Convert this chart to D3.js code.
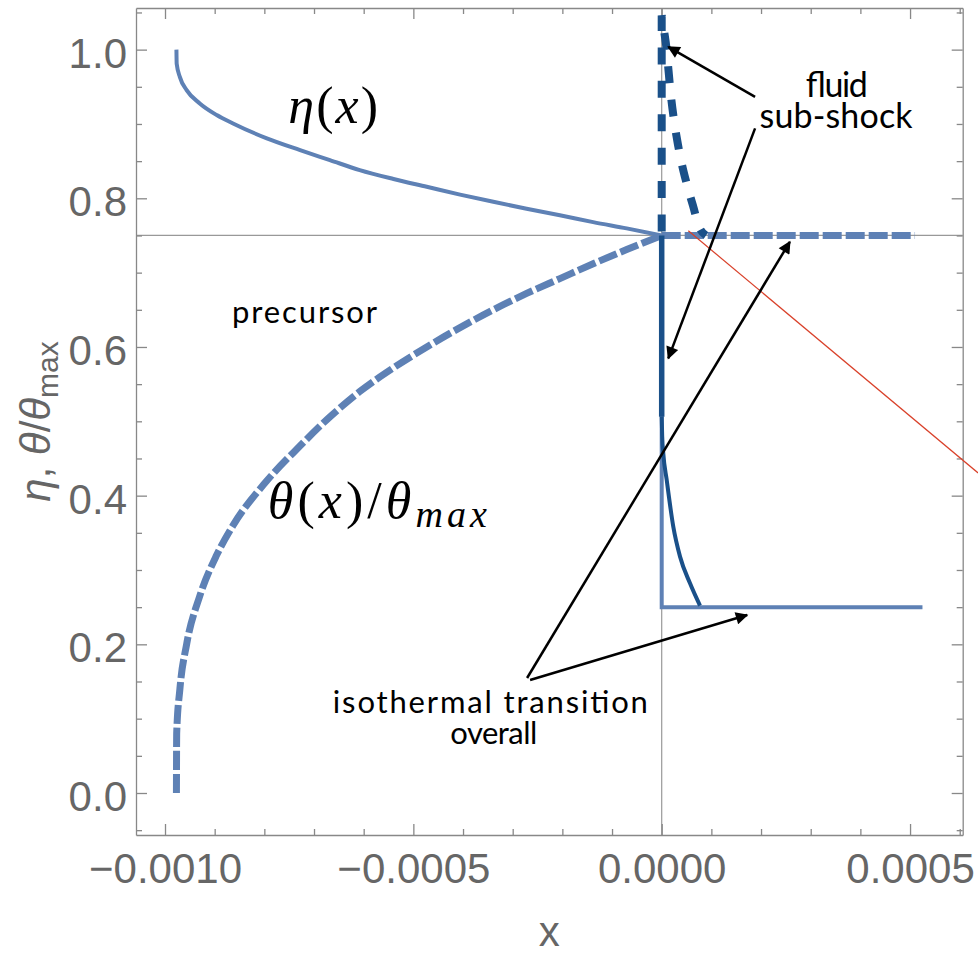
<!DOCTYPE html>
<html>
<head>
<meta charset="utf-8">
<script src="https://cdn.jsdelivr.net/npm/d3@7"></script>
<style>
  body { margin: 0; background: #fff; }
  svg { display: block; }
  .frame path, .frame line { stroke: #888; stroke-width: 1.3; }
  .frame text { font-family: "Liberation Sans", Arial, sans-serif; font-size: 42px; fill: #666; }
  .axis-title { font-family: "Liberation Sans", Arial, sans-serif; font-size: 42px; fill: #666; }
  .note { font-family: Lato, "Open Sans", sans-serif; font-size: 31px; fill: #000; }
  .math { font-family: "Liberation Serif", serif; font-size: 52px; fill: #000; }
</style>
</head>
<body>
<div id="app"></div>
<script>
// DATA
// precursor, x < 0
const precursorX = [-0.000977, -0.0009765, -0.000970, -0.0009565, -0.00093, -0.000896, -0.000863,
  -0.000795, -0.000728, -0.000668, -0.000608, -0.000540, -0.000473, -0.000406, -0.000339,
  -0.000272, -0.000205, -0.000138, -0.0000705, 0];
const etaPrecursor = [1.0, 0.981, 0.963, 0.9455, 0.9276, 0.912, 0.9007, 0.8806, 0.8648, 0.8514,
  0.838, 0.826, 0.8155, 0.805, 0.7953, 0.786, 0.7773, 0.768, 0.7595, 0.75];
const thetaPrecursor = [0, 0.08, 0.14, 0.2, 0.265, 0.32, 0.36, 0.42, 0.467, 0.506, 0.54, 0.572,
  0.6, 0.626, 0.65, 0.672, 0.692, 0.712, 0.731, 0.75];

// overall isothermal transition, x >= 0
const etaJumpX = [0, 0, 0.000525];
const etaJump = [0.75, 0.25, 0.25];
const thetaFlatX = [0, 0.00051];
const thetaFlat = [0.75, 0.75];

// fluid sub-shock
const fluidEtaX = [0, 0, 0.0000010, 0.0000032, 0.0000101, 0.0000234, 0.0000369, 0.0000570, 0.0000771];
const fluidEta = [0.75, 0.506, 0.48, 0.457, 0.421, 0.358, 0.318, 0.282, 0.252];
const fluidThetaX = [0, 0, 0.0000046, 0.0000101, 0.0000137, 0.0000187, 0.0000248, 0.0000328,
  0.0000409, 0.0000510, 0.0000630, 0.0000751, 0.0000892];
const fluidTheta = [0.75, 1.046, 1.026, 0.999, 0.972, 0.937, 0.905, 0.872, 0.845, 0.818, 0.790, 0.762, 0.75];

// ticks
const xMajor = [-0.001, -0.0005, 0, 0.0005];
const xMinor = [-0.0009, -0.0008, -0.0007, -0.0006, -0.0004, -0.0003, -0.0002, -0.0001,
  0.0001, 0.0002, 0.0003, 0.0004, 0.0006];
const yMajor = [0, 0.2, 0.4, 0.6, 0.8, 1.0];
const yMinor = [-0.05, 0.05, 0.1, 0.15, 0.25, 0.3, 0.35, 0.45, 0.5, 0.55, 0.65, 0.7, 0.75,
  0.85, 0.9, 0.95, 1.05];

// annotations, in data coordinates
const arrowTails = [[0.000188, 0.9365], [0.000188, 0.894], [-0.000271, 0.1547], [-0.000265, 0.152]];
const arrowTips = [[0.0000133, 1.0038], [0.0000133, 0.5847], [0.000258, 0.7415], [0.000172, 0.2394]];
const redLine = [[0.0000536, 0.7563], [0.000637, 0.4305]];

// LAYOUT
const W = 978, H = 954;
const plotL = 136, plotR = 962.7, plotT = 8, plotB = 835;

const x = d3.scaleLinear().domain([-0.0010584, 0.000606]).range([plotL, plotR]);
const y = d3.scaleLinear().domain([-0.0565, 1.056]).range([plotB, plotT]);

const zip = (xs, ys) => xs.map((v, i) => [v, ys[i]]);

const svg = d3.select('#app')
  .append('svg')
  .attr('width', W)
  .attr('height', H);

// gridlines at x = 0 and y = 0.75
svg.append('line')
  .attr('x1', x(0)).attr('x2', x(0))
  .attr('y1', plotT).attr('y2', plotB)
  .attr('stroke', '#999').attr('stroke-width', 1.2);
svg.append('line')
  .attr('x1', plotL).attr('x2', plotR)
  .attr('y1', y(0.75)).attr('y2', y(0.75))
  .attr('stroke', '#999').attr('stroke-width', 1.2);

// frame with inward ticks on all sides
function frameAxis(axisFn, scale, major, minor, transform, labels) {
  const g = svg.append('g').attr('class', 'frame').attr('transform', transform);
  g.call(axisFn(scale).tickValues(minor).tickSizeInner(-6).tickSizeOuter(0).tickFormat(''));
  const gm = svg.append('g').attr('class', 'frame').attr('transform', transform);
  gm.call(axisFn(scale).tickValues(major).tickSizeInner(-11).tickSizeOuter(0)
    .tickPadding(labels ? labels.pad : 0)
    .tickFormat(labels ? labels.fmt : ''));
  gm.select('.domain').remove();
  return gm;
}

const fx = d3.format('.4f');
const fy = d3.format('.1f');
frameAxis(d3.axisBottom, x, xMajor, xMinor, `translate(0,${plotB})`, { pad: 18, fmt: fx });
frameAxis(d3.axisTop, x, xMajor, xMinor, `translate(0,${plotT})`, null);
const gy = frameAxis(d3.axisLeft, y, yMajor, yMinor, `translate(${plotL},0)`, { pad: 9, fmt: fy });
gy.selectAll('text').attr('dy', '0.42em');
frameAxis(d3.axisRight, y, yMajor, yMinor, `translate(${plotR},0)`, null);

// axis titles
svg.append('text')
  .attr('class', 'axis-title')
  .attr('x', (plotL + plotR) / 2)
  .attr('y', 946)
  .attr('text-anchor', 'middle')
  .text('x');

const yt = svg.append('text')
  .attr('class', 'axis-title')
  .attr('transform', `translate(50,${(plotT + plotB) / 2}) rotate(-90)`)
  .attr('text-anchor', 'middle');
yt.append('tspan').attr('font-style', 'italic').text('η');
yt.append('tspan').text(', ');
yt.append('tspan').attr('font-style', 'italic').text('θ');
yt.append('tspan').text('/');
yt.append('tspan').attr('font-style', 'italic').text('θ');
yt.append('tspan').attr('font-size', 30).attr('dy', 8).text('max');

// curves
const smooth = d3.line().x(d => x(d[0])).y(d => y(d[1])).curve(d3.curveMonotoneX);
const straight = d3.line().x(d => x(d[0])).y(d => y(d[1]));

const LIGHT = '#5e81b5';
const DARK = '#1a5089';

// overall theta (dashed, light)
svg.append('path')
  .attr('d', smooth(zip(precursorX, thetaPrecursor)))
  .attr('fill', 'none').attr('stroke', LIGHT).attr('stroke-width', 7)
  .attr('stroke-dasharray', '19,4');
svg.append('path')
  .attr('d', straight(zip(thetaFlatX, thetaFlat)))
  .attr('fill', 'none').attr('stroke', LIGHT).attr('stroke-width', 7)
  .attr('stroke-dasharray', '19,4');

// overall eta (solid, light)
svg.append('path')
  .attr('d', smooth(zip(precursorX, etaPrecursor)))
  .attr('fill', 'none').attr('stroke', LIGHT).attr('stroke-width', 4);
svg.append('path')
  .attr('d', straight(zip(etaJumpX, etaJump)))
  .attr('fill', 'none').attr('stroke', LIGHT).attr('stroke-width', 4);

// fluid eta (solid, dark)
const fEta = zip(fluidEtaX, fluidEta);
svg.append('path')
  .attr('d', smooth(fEta.slice(1)))
  .attr('fill', 'none').attr('stroke', DARK).attr('stroke-width', 4);
svg.append('path')
  .attr('d', straight(fEta.slice(0, 2)))
  .attr('fill', 'none').attr('stroke', DARK).attr('stroke-width', 5.5);

// fluid theta (dashed, dark): vertical jump, then the relaxing curve
const fTh = zip(fluidThetaX, fluidTheta);
svg.append('path')
  .attr('d', straight(fTh.slice(0, 2)) + smooth(fTh.slice(1)).replace(/^M[^A-Z]*/, ''))
  .attr('fill', 'none').attr('stroke', DARK).attr('stroke-width', 8)
  .attr('stroke-dasharray', '17,16.4').attr('stroke-dashoffset', 29.4);

// red guide line
svg.append('line')
  .attr('x1', x(redLine[0][0])).attr('y1', y(redLine[0][1]))
  .attr('x2', x(redLine[1][0])).attr('y2', y(redLine[1][1]))
  .attr('stroke', '#d9412a').attr('stroke-width', 1.2);

// arrows
const defs = svg.append('defs');
defs.append('marker')
  .attr('id', 'head')
  .attr('viewBox', '0 0 10 10')
  .attr('refX', 9).attr('refY', 5)
  .attr('markerWidth', 6.5).attr('markerHeight', 5)
  .attr('markerUnits', 'strokeWidth')
  .attr('orient', 'auto')
  .append('path')
  .attr('d', 'M0,0L10,5L0,10Z')
  .attr('fill', '#000');

svg.selectAll('line.arrow')
  .data(d3.zip(arrowTails, arrowTips))
  .enter()
  .append('line')
  .attr('class', 'arrow')
  .attr('x1', d => x(d[0][0])).attr('y1', d => y(d[0][1]))
  .attr('x2', d => x(d[1][0])).attr('y2', d => y(d[1][1]))
  .attr('stroke', '#000').attr('stroke-width', 2.5)
  .attr('marker-end', 'url(#head)');

// text labels
function note(txt, xv, yv, anchor, len, size) {
  const t = svg.append('text')
    .attr('class', 'note')
    .attr('x', x(xv)).attr('y', y(yv))
    .attr('text-anchor', anchor)
    .text(txt);
  if (size) t.style('font-size', size + 'px');
  if (len) t.attr('textLength', len).attr('lengthAdjust', 'spacing');
  return t;
}
note('precursor', -0.000865, 0.6321, 'start', 145, 31);
note('fluid', 0.000351, 0.936, 'middle', 62, 34);
note('sub-shock', 0.000351, 0.8944, 'middle', 153, 34);
note('isothermal transition', -0.000345, 0.1076, 'middle', 315, 31);
note('overall', -0.000338, 0.0662, 'middle', 87, 31);

const etaLabel = svg.append('text')
  .attr('class', 'math')
  .attr('x', x(-0.000752)).attr('y', y(0.9007))
  .attr('textLength', 90).attr('lengthAdjust', 'spacing');
etaLabel.append('tspan').attr('font-style', 'italic').text('η');
etaLabel.append('tspan').text('(');
etaLabel.append('tspan').attr('font-style', 'italic').text('x');
etaLabel.append('tspan').text(')');

const thLabel = svg.append('text')
  .attr('class', 'math')
  .attr('x', x(-0.000793)).attr('y', y(0.3699))
  .attr('textLength', 219).attr('lengthAdjust', 'spacing');
thLabel.append('tspan').attr('font-style', 'italic').text('θ');
thLabel.append('tspan').text('(');
thLabel.append('tspan').attr('font-style', 'italic').text('x');
thLabel.append('tspan').text(')/');
thLabel.append('tspan').attr('font-style', 'italic').text('θ');
thLabel.append('tspan').attr('font-style', 'italic').attr('font-size', 38).attr('dy', 9).text('max');
</script>
</body>
</html>
